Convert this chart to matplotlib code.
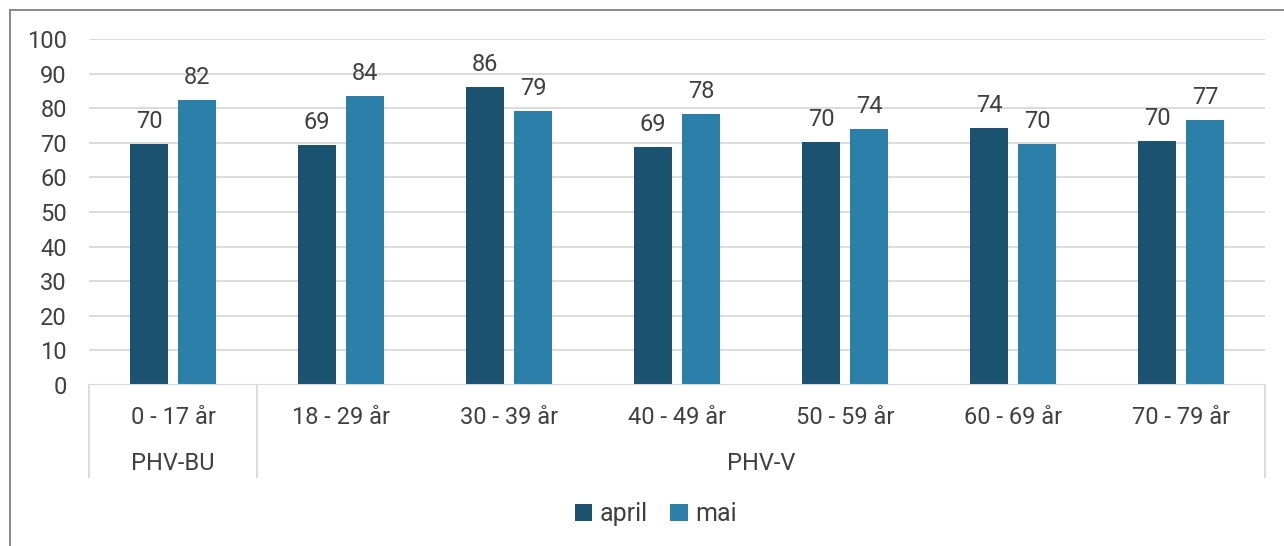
import numpy as np
import matplotlib.pyplot as plt
from matplotlib.patches import Rectangle
from matplotlib.transforms import blended_transform_factory

plt.rcParams['font.family'] = ['Roboto', 'DejaVu Sans']

categories = ['0 - 17 år', '18 - 29 år', '30 - 39 år', '40 - 49 år',
              '50 - 59 år', '60 - 69 år', '70 - 79 år']
groups = ['PHV-BU', 'PHV-V']
group_sizes = [1, 6]
april = [69.6, 69.3, 86.2, 68.8, 70.2, 74.2, 70.4]
mai = [82.4, 83.5, 79.2, 78.3, 74.0, 69.6, 76.6]
series_names = ['april', 'mai']

c_april = '#1b5270'
c_mai = '#2b7fa8'
txt = '#404040'
grid_c = '#d9d9d9'
fs = 17

fig = plt.figure(figsize=(12.84, 5.46), dpi=100)
W, H = 1284, 546
ax = fig.add_axes([89 / W, (H - 385) / H, (1265 - 89) / W, (385 - 39) / H])

x = np.arange(len(categories))
bw = 0.227
off = 0.143
b1 = ax.bar(x - off, april, bw, color=c_april, label=series_names[0], zorder=3)
b2 = ax.bar(x + off, mai, bw, color=c_mai, label=series_names[1], zorder=3)

for bars in (b1, b2):
    for r in bars:
        ax.annotate('%.0f' % r.get_height(), (r.get_x() + r.get_width() / 2, r.get_height()),
                    xytext=(0, 8), textcoords='offset points', ha='center', va='bottom',
                    fontsize=fs, color=txt)

ax.set_xlim(-0.5, len(categories) - 0.5)
ax.set_ylim(0, 100)
ax.set_yticks(range(0, 101, 10))
ax.tick_params(axis='y', length=0, labelsize=fs, labelcolor=txt, pad=16)
ax.set_xticks([])
ax.grid(axis='y', color=grid_c, linewidth=1.3, zorder=0)
for s in ax.spines.values():
    s.set_visible(False)
ax.axhline(0, color=grid_c, linewidth=1.5, zorder=4)

# category axis with two levels
trans = blended_transform_factory(ax.transData, ax.transAxes)
sep_bottom = -(477 - 385) / 346
bounds = [-0.5]
for n in group_sizes:
    bounds.append(bounds[-1] + n)
for b in bounds:
    ax.plot([b, b], [0, sep_bottom], transform=trans, color=grid_c,
            linewidth=1.3, clip_on=False)
for xi, lab in zip(x, categories):
    ax.text(xi, -(417 - 385) / 346, lab, transform=trans, ha='center', va='center',
            fontsize=fs, color=txt)
for i, g in enumerate(groups):
    ax.text((bounds[i] + bounds[i + 1]) / 2, -(464 - 385) / 346, g, transform=trans,
            ha='center', va='center', fontsize=fs, color=txt)

fig.legend(loc='center', bbox_to_anchor=(656 / W, (H - 514) / H), ncol=2, frameon=False,
           fontsize=fs + 1, labelcolor=txt, handlelength=0.7, handleheight=0.7,
           handletextpad=0.3, columnspacing=0.9)

fig.patches.append(Rectangle((9.5 / W, -0.05), 1.1, (H - 9.5) / H + 0.05,
                             transform=fig.transFigure, fill=False,
                             edgecolor='#808080', linewidth=1.3))

fig.savefig('out.png', dpi=100)
